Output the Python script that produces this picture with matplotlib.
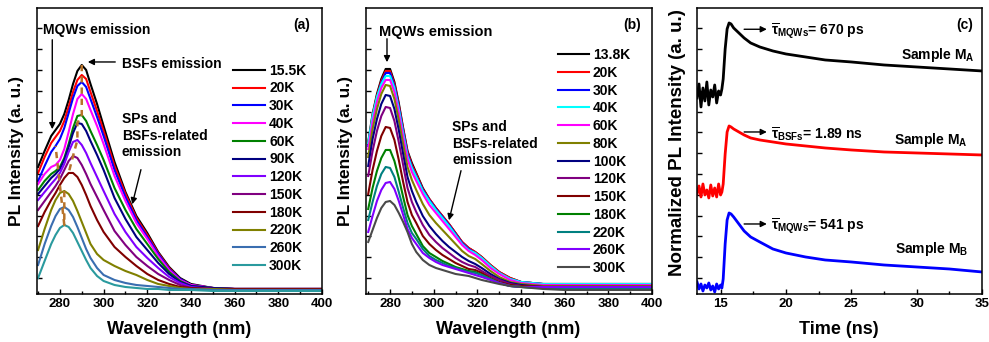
import numpy as np
import matplotlib
matplotlib.use('Agg')
import matplotlib.pyplot as plt
from matplotlib.ticker import MultipleLocator

plt.rcParams['font.family'] = ['Liberation Sans', 'DejaVu Sans']
plt.rcParams['font.weight'] = 'bold'
plt.rcParams['axes.labelweight'] = 'bold'
plt.rcParams['mathtext.fontset'] = 'custom'
plt.rcParams['mathtext.rm'] = 'Liberation Sans:bold'
plt.rcParams['mathtext.it'] = 'Liberation Sans:bold'
plt.rcParams['mathtext.bf'] = 'Liberation Sans:bold'

# ---------------- panel (a): PL spectra, sample MA ----------------
wl_a = [270, 273, 276, 278, 280, 282, 284, 286, 288, 290, 292, 294, 297, 300,
        305, 310, 315, 320, 325, 330, 335, 340, 350, 360, 400]
a_15K5 = [127, 143, 158, 164, 170, 180, 194, 210, 223, 229, 224, 210, 190, 168, 132, 102, 78, 61, 42, 27, 16, 10, 6, 5, 5]
a_20K = [121, 137, 151, 157, 163, 173, 187, 202, 214, 219, 215, 202, 183, 163, 128, 100, 76, 59, 41, 26, 15, 9, 6, 5, 5]
a_30K = [113, 128, 142, 148, 155, 166, 181, 196, 208, 212, 207, 195, 177, 158, 124, 97, 74, 57, 40, 25, 15, 9, 6, 5, 5]
a_40K = [110, 120, 127, 129, 134, 145, 162, 180, 195, 200, 195, 184, 168, 150, 118, 93, 71, 55, 38, 24, 14, 9, 6, 5, 5]
a_60K = [104, 113, 120, 123, 127, 136, 150, 166, 178, 179, 173, 163, 149, 134, 106, 84, 65, 50, 35, 22, 13, 8, 6, 5, 5]
a_90K = [100, 108, 116, 120, 125, 134, 147, 161, 171, 170, 163, 153, 139, 124, 96, 75, 57, 44, 31, 20, 12, 8, 6, 5, 5]
a_120K = [94, 102, 110, 115, 121, 130, 142, 152, 154, 149, 141, 131, 117, 103, 80, 62, 47, 36, 26, 17, 11, 7, 5, 5, 5]
a_150K = [84, 93, 102, 108, 115, 124, 133, 138, 136, 129, 120, 110, 97, 84, 63, 49, 37, 28, 20, 14, 9, 6, 5, 5, 5]
a_180K = [68, 82, 94, 101, 109, 116, 121, 121, 117, 109, 99, 88, 74, 62, 47, 37, 28, 20, 14, 10, 7, 6, 5, 5, 5]
a_220K = [44, 65, 84, 94, 101, 103, 100, 93, 83, 72, 61, 50, 40, 34, 28, 23, 19, 14, 10, 8, 6, 5, 5, 4, 4]
a_260K = [29, 50, 68, 78, 85, 87, 84, 77, 67, 56, 45, 36, 26, 19, 14, 11, 9, 8, 7, 6, 5, 5, 4, 4, 4]
a_300K = [16, 33, 50, 59, 66, 69, 67, 61, 52, 43, 34, 26, 18, 13, 9, 7, 6, 5, 5, 4, 4, 4, 3, 3, 3]
labels_a = ['15.5K', '20K', '30K', '40K', '60K', '90K', '120K', '150K', '180K', '220K', '260K', '300K']
colors_a = ['#000000', '#ff0000', '#0000ff', '#ff00ff', '#008000', '#000080',
            '#8000ff', '#800080', '#800000', '#808000', '#3a6eb0', '#2a9a9e']
curves_a = [a_15K5, a_20K, a_30K, a_40K, a_60K, a_90K, a_120K, a_150K, a_180K, a_220K, a_260K, a_300K]

# ---------------- panel (b): PL spectra, sample MB ----------------
wl_b = [270, 272, 274, 276, 278, 280, 282, 284, 286, 288, 290, 292, 295, 298, 301,
        304, 307, 310, 313, 316, 319, 322, 326, 330, 335, 340, 350, 360, 400]
b_13K8 = [152, 180, 200, 215, 225, 225, 212, 191, 166, 143, 131, 121, 106, 95, 86, 78, 70, 61, 52, 46, 42, 37, 29, 22, 16, 12, 10, 10, 10]
b_20K = [150, 178, 198, 213, 223, 223, 210, 189, 165, 142, 129, 120, 105, 95, 86, 78, 70, 61, 52, 46, 42, 37, 29, 22, 16, 12, 10, 10, 10]
b_30K = [148, 176, 196, 211, 221, 221, 208, 187, 163, 140, 127, 118, 104, 94, 85, 77, 69, 60, 51, 45, 41, 36, 28, 21, 15, 12, 10, 9, 9]
b_40K = [151, 178, 197, 210, 218, 218, 206, 185, 161, 138, 126, 117, 103, 93, 84, 76, 68, 59, 50, 44, 41, 36, 28, 21, 15, 12, 10, 10, 10]
b_60K = [145, 172, 192, 206, 214, 214, 202, 181, 157, 135, 122, 113, 100, 89, 81, 73, 65, 57, 49, 43, 39, 34, 26, 20, 14, 11, 9, 9, 9]
b_80K = [137, 165, 185, 200, 209, 208, 195, 174, 150, 127, 114, 104, 90, 79, 71, 64, 57, 50, 43, 38, 35, 30, 23, 17, 12, 10, 8, 8, 8]
b_100K = [128, 155, 175, 190, 199, 198, 185, 164, 140, 117, 103, 92, 78, 68, 60, 53, 47, 42, 37, 33, 30, 26, 20, 15, 11, 9, 7, 7, 7]
b_120K = [118, 143, 163, 178, 187, 186, 173, 152, 129, 106, 92, 82, 69, 59, 52, 46, 41, 36, 32, 29, 27, 23, 18, 14, 10, 8, 7, 7, 7]
b_150K = [100, 124, 143, 158, 167, 166, 154, 134, 112, 92, 79, 71, 58, 50, 44, 39, 35, 31, 28, 25, 24, 21, 16, 12, 9, 8, 7, 7, 7]
b_180K = [85, 106, 123, 136, 144, 144, 133, 116, 97, 79, 68, 60, 48, 41, 37, 33, 30, 27, 25, 23, 22, 19, 15, 11, 8, 7, 6, 6, 6]
b_220K = [74, 92, 108, 120, 127, 126, 117, 102, 86, 71, 61, 55, 45, 38, 34, 31, 28, 26, 24, 22, 21, 19, 15, 11, 8, 7, 6, 6, 6]
b_260K = [62, 78, 93, 104, 111, 112, 105, 93, 79, 65, 56, 50, 41, 36, 32, 29, 27, 25, 23, 21, 19, 17, 14, 11, 8, 7, 7, 7, 7]
b_300K = [52, 64, 76, 86, 92, 93, 89, 81, 72, 62, 50, 42, 34, 29, 26, 24, 22, 20, 19, 18, 16, 14, 12, 10, 8, 7, 5, 4, 4]
labels_b = ['13.8K', '20K', '30K', '40K', '60K', '80K', '100K', '120K', '150K', '180K', '220K', '260K', '300K']
colors_b = ['#000000', '#ff0000', '#0000ff', '#00ffff', '#ff00ff', '#808000', '#000080',
            '#800080', '#800000', '#008000', '#008080', '#8000ff', '#4a4a4a']
curves_b = [b_13K8, b_20K, b_30K, b_40K, b_60K, b_80K, b_100K, b_120K, b_150K, b_180K, b_220K, b_260K, b_300K]

# ---------------- panel (c): TRPL decays ----------------
t_c = [13.2, 13.35, 13.5, 13.65, 13.8, 13.95, 14.1, 14.25, 14.4, 14.55, 14.7, 14.85, 15.0, 15.1,
       15.2, 15.35, 15.5, 15.65, 15.8, 16.0, 16.4, 16.8, 17.3, 18.0, 19.0, 20.0, 21.5, 23.0,
       25.0, 27.5, 30.0, 32.5, 35.0]
mqw_ma = [196, 210, 187, 206, 193, 212, 189, 204, 197, 209, 191, 203, 199, 205,
          215, 245, 265, 271, 270, 266, 261, 256, 251, 247, 243, 240, 237, 234, 232, 229, 227, 225, 223]
bsf_ma = [100, 108, 97, 110, 99, 104, 96, 109, 98, 106, 97, 110, 99, 102,
          110, 140, 162, 168, 167, 165, 162, 159, 156, 154, 152, 150, 148, 146, 144, 142, 141, 140, 139]
mqw_mb = [12, 5, 10, 3, 9, 6, 11, 4, 8, 2, 10, 5, 9, 6,
          15, 50, 74, 81, 80, 77, 70, 63, 57, 52, 45, 41, 37, 34, 32, 29, 27, 25, 22]

fig = plt.figure(figsize=(9.89, 3.42), dpi=100)
axa = fig.add_axes([0.0374, 0.1404, 0.2882, 0.8363])
axb = fig.add_axes([0.3701, 0.1404, 0.2892, 0.8363])
axc = fig.add_axes([0.7048, 0.1404, 0.2882, 0.8363])

for ax in (axa, axb, axc):
    ax.set_ylim(0, 286)
    ax.set_yticks(np.arange(16, 286, 20.8))
    ax.set_yticklabels([])
    ax.tick_params(direction='in', length=3.5, width=1, labelsize=9.5, pad=3)
    ax.tick_params(which='minor', direction='in', length=2, width=1)
    for s in ax.spines.values():
        s.set_linewidth(1.1)
    ax.yaxis.set_label_coords(-0.045, 0.535)

# panel (a)
for y, c, lab in zip(curves_a, colors_a, labels_a):
    axa.plot(wl_a, y, color=c, lw=1.5, label=lab)
# dashed guides through the peaks
pk_x = [wl_a[int(np.argmax(y))] for y in curves_a]
pk_y = [max(y) for y in curves_a]
axa.plot(pk_x[:9], pk_y[:9], ls=(0, (2.5, 2)), color='#b8732a', lw=1.8, zorder=5)
axa.plot(pk_x[9:] + [wl_a[3]], pk_y[9:] + [a_30K[3]], ls=(0, (2.5, 2)), color='#b8732a', lw=1.8, zorder=5)
axa.set_xlim(269.5, 400)
axa.xaxis.set_major_locator(MultipleLocator(20))
axa.xaxis.set_minor_locator(MultipleLocator(10))
axa.set_xlabel('Wavelength (nm)', fontsize=13)
axa.set_ylabel('PL Intensity (a. u.)', fontsize=12.5)
axa.xaxis.set_label_coords(0.498, -0.095)
axa.legend(loc='upper left', bbox_to_anchor=(0.688, 0.805), frameon=False, fontsize=10,
           handlelength=2.3, handletextpad=0.3, labelspacing=0.27, borderpad=0, borderaxespad=0)
axa.text(0.928, 0.94, '(a)', transform=axa.transAxes, ha='center', va='center', fontsize=10)
axa.text(272.2, 264, 'MQWs emission', ha='left', va='center', fontsize=10)
axa.annotate('', xy=(276.5, 162), xytext=(276.5, 257),
             arrowprops=dict(arrowstyle='-|>', color='k', lw=1, mutation_scale=9))
axa.text(308.4, 230, 'BSFs emission', ha='left', va='center', fontsize=10)
axa.annotate('', xy=(291.5, 232), xytext=(306.6, 232),
             arrowprops=dict(arrowstyle='-|>', color='k', lw=1, mutation_scale=9))
axa.text(308.4, 182, 'SPs and\nBSFs-related\nemission', ha='left', va='top', fontsize=10, linespacing=1.25)
axa.annotate('', xy=(312.8, 87), xytext=(317.4, 127),
             arrowprops=dict(arrowstyle='-|>', color='k', lw=1, mutation_scale=9))

# panel (b)
for y, c, lab in zip(curves_b, colors_b, labels_b):
    axb.plot(wl_b, y, color=c, lw=1.5, label=lab)
axb.set_xlim(269, 400)
axb.xaxis.set_major_locator(MultipleLocator(20))
axb.xaxis.set_minor_locator(MultipleLocator(10))
axb.set_xlabel('Wavelength (nm)', fontsize=13)
axb.set_ylabel('PL Intensity (a. u.)', fontsize=12.5)
axb.xaxis.set_label_coords(0.498, -0.095)
axb.legend(loc='upper left', bbox_to_anchor=(0.671, 0.86), frameon=False, fontsize=10,
           handlelength=2.2, handletextpad=0.3, labelspacing=0.27, borderpad=0, borderaxespad=0)
axb.text(0.93, 0.94, '(b)', transform=axb.transAxes, ha='center', va='center', fontsize=10)
axb.text(275, 262, 'MQWs emission', ha='left', va='center', fontsize=10.5)
axb.annotate('', xy=(278.6, 229), xytext=(278.6, 258),
             arrowprops=dict(arrowstyle='-|>', color='k', lw=1, mutation_scale=9))
axb.text(308.4, 174, 'SPs and\nBSFs-related\nemission', ha='left', va='top', fontsize=10, linespacing=1.25)
axb.annotate('', xy=(306.7, 71), xytext=(312.8, 126),
             arrowprops=dict(arrowstyle='-|>', color='k', lw=1, mutation_scale=9))

# panel (c)
axc.plot(t_c, mqw_ma, color='#000000', lw=2.0)
axc.plot(t_c, bsf_ma, color='#ff0000', lw=2.0)
axc.plot(t_c, mqw_mb, color='#0000ff', lw=2.0)
axc.set_xlim(13.2, 35)
axc.xaxis.set_major_locator(MultipleLocator(5))
axc.xaxis.set_minor_locator(MultipleLocator(2.5))
axc.set_xlabel('Time (ns)', fontsize=13)
axc.set_ylabel('Normalized PL Intensity (a. u.)', fontsize=13.5)
axc.xaxis.set_label_coords(0.498, -0.095)
axc.yaxis.set_label_coords(-0.04, 0.53)
axc.text(0.939, 0.94, '(c)', transform=axc.transAxes, ha='center', va='center', fontsize=10)
for yv, txt in [(264.7, r'$\overline{\tau}_{\mathrm{MQWs}}$= 670 ps'),
                (162, r'$\overline{\tau}_{\mathrm{BSFs}}$= 1.89 ns'),
                (70, r'$\overline{\tau}_{\mathrm{MQWs}}$= 541 ps')]:
    axc.annotate('', xy=(18.75, yv), xytext=(16.59, yv),
                 arrowprops=dict(arrowstyle='-|>', color='k', lw=1, mutation_scale=9))
    axc.text(18.83, yv - 2, txt, ha='left', va='center', fontsize=10)
axc.text(34.46, 239, r'Sample M$_{\mathrm{A}}$', ha='right', va='center', fontsize=10)
axc.text(33.93, 154, r'Sample M$_{\mathrm{A}}$', ha='right', va='center', fontsize=10)
axc.text(33.93, 45, r'Sample M$_{\mathrm{B}}$', ha='right', va='center', fontsize=10)

fig.savefig('out.png', dpi=100)
